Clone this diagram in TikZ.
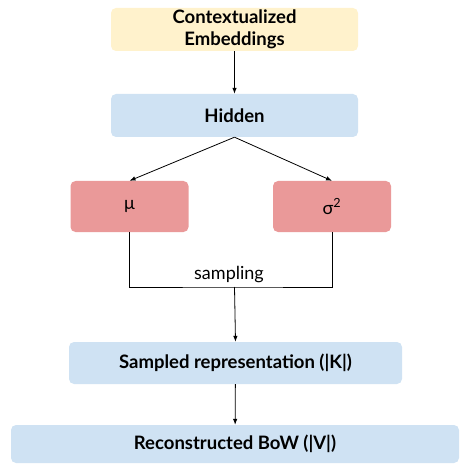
\documentclass[tikz,border=0pt]{standalone}
\usepackage{fontspec}
\setmainfont{Lato}
\usetikzlibrary{arrows.meta}
\definecolor{boxyellow}{HTML}{FFF2CC}
\definecolor{boxblue}{HTML}{CFE2F3}
\definecolor{boxred}{HTML}{EA9999}
\tikzset{
  box/.style={rounded corners=5pt, draw=none, align=center, inner sep=0pt,
    font=\fontsize{18.5}{22}\selectfont\bfseries},
  varbox/.style={box, fill=boxred, minimum width=118pt, minimum height=51pt,
    font=\fontsize{18}{22}\selectfont},
  link/.style={line width=0.8pt, -{Latex[length=6pt,width=4.5pt]}},
  plainlink/.style={line width=0.8pt}
}
\begin{document}
\begin{tikzpicture}[x=1pt,y=-1pt]
\useasboundingbox (0,0) rectangle (468,465);
\node[box, fill=boxyellow, minimum width=247pt, minimum height=43pt] (ctx) at (234.5,29.5) {Contextualized\\Embeddings};
\node[box, fill=boxblue, minimum width=247pt, minimum height=43pt] (hid) at (234.5,115.5) {Hidden};
\node[varbox] (mu) at (129.5,206.5) {μ};
\node[varbox] (sig) at (332,206.5) {σ\textsuperscript{2}};
\node[box, fill=boxblue, minimum width=333pt, minimum height=42pt] (samp) at (235.5,363) {Sampled representation (|K|)};
\node[box, fill=boxblue, minimum width=448pt, minimum height=38pt] (rec) at (235,444) {Reconstructed BoW (|V|)};
\coordinate (join) at (234.5,287);
\node[font=\fontsize{18}{22}\selectfont, anchor=base] (lbl) at (229,279) {sampling};
\draw[link] (ctx) -- (hid);
\draw[link] (hid.south) -- (mu.north);
\draw[link] (hid.south) -- (sig.north);
\draw[plainlink] (mu.south) |- (join) -| (sig.south);
\draw[link] (join) -- (samp.north);
\draw[link] (samp) -- (rec);
\end{tikzpicture}
\end{document}
